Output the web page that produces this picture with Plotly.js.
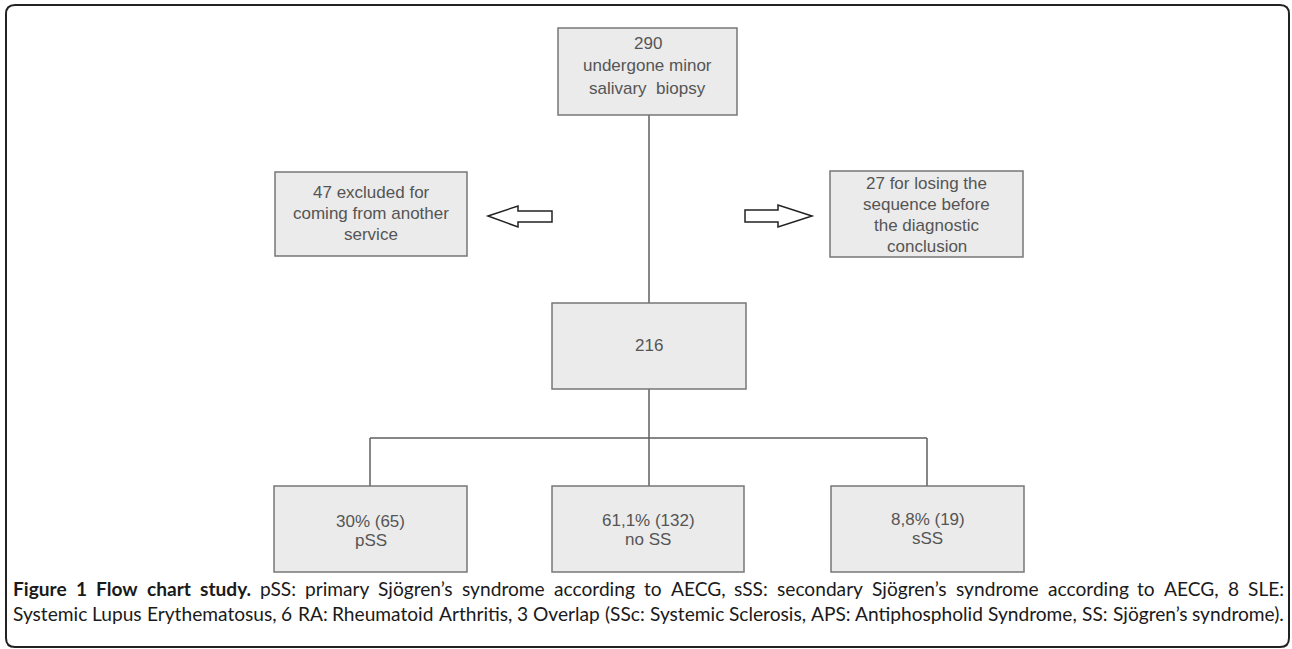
<!DOCTYPE html>
<html>
<head>
<meta charset="utf-8">
<script src="https://cdn.plot.ly/plotly-3.0.1.min.js"></script>
<style>html,body{margin:0;padding:0;background:#fff;}#chart{width:1292px;height:649px;}</style>
</head>
<body>
<div id="chart"></div>
<script>
// ---- data ----
const totalBiopsied = 290;
const excludedOther = 47;
const lostSequence = 27;
const analysed = 216;
const groupLabels = ["pSS", "no SS", "sSS"];
const groupPercents = ["30%", "61,1%", "8,8%"];
const groupCounts = [65, 132, 19];
const captionBold = "Figure 1 Flow chart study.";
const captionLine1 = "pSS: primary Sjögren’s syndrome according to AECG, sSS: secondary Sjögren’s syndrome according to AECG, 8 SLE:";
const captionLine2 = "Systemic Lupus Erythematosus, 6 RA: Rheumatoid Arthritis, 3 Overlap (SSc: Systemic Sclerosis, APS: Antiphospholid Syndrome, SS: Sjögren’s syndrome).";

// ---- geometry (pixels) ----
const boxFill = "#ebebeb", boxLine = "#777777", textCol = "#555555", connCol = "#5f5f5f";
const boxes = [
  {x0:558, x1:737, y0:28, y1:115, ty:43, dy:22.5, lines:[String(totalBiopsied), "undergone minor", "salivary  biopsy"]},
  {x0:275, x1:467, y0:172, y1:256, ty:192, dy:21, lines:[excludedOther + " excluded for", "coming from another", "service"]},
  {x0:830, x1:1023, y0:171, y1:257, ty:183, dy:21, lines:[lostSequence + " for losing the", "sequence before", "the diagnostic", "conclusion"]},
  {x0:552, x1:746, y0:303, y1:389, ty:345, dy:20, lines:[String(analysed)]},
  {x0:274, x1:467, y0:486, y1:572, ty:521, dy:19.5, lines:[groupPercents[0] + " (" + groupCounts[0] + ")", groupLabels[0]]},
  {x0:552, x1:744, y0:486, y1:572, ty:520, dy:19.5, lines:[groupPercents[1] + " (" + groupCounts[1] + ")", groupLabels[1]]},
  {x0:831, x1:1024, y0:486, y1:572, ty:519, dy:19.5, lines:[groupPercents[2] + " (" + groupCounts[2] + ")", groupLabels[2]]}
];

const shapes = [];
const annotations = [];

// outer rounded frame
const fx0=6, fy0=5, fx1=1289, fy1=647, r=9;
shapes.push({type:"path", xref:"x", yref:"y",
  path:`M ${fx0+r},${fy0} L ${fx1-r},${fy0} Q ${fx1},${fy0} ${fx1},${fy0+r} L ${fx1},${fy1-r} Q ${fx1},${fy1} ${fx1-r},${fy1} L ${fx0+r},${fy1} Q ${fx0},${fy1} ${fx0},${fy1-r} L ${fx0},${fy0+r} Q ${fx0},${fy0} ${fx0+r},${fy0} Z`,
  line:{color:"#222222", width:2}, fillcolor:"rgba(0,0,0,0)"});

// connectors
const cx = 649;
const conn = [
  [cx,115,cx,303],
  [cx,389,cx,486],
  [370,438,927,438],
  [370,438,370,486],
  [927,438,927,486]
];
conn.forEach(c => shapes.push({type:"line", x0:c[0], y0:c[1], x1:c[2], y1:c[3], line:{color:connCol, width:1.5}, layer:"below"}));

// boxes
boxes.forEach(b => {
  shapes.push({type:"rect", x0:b.x0, x1:b.x1, y0:b.y0, y1:b.y1, fillcolor:boxFill, line:{color:boxLine, width:1.5}});
  b.lines.forEach((t, i) => {
    annotations.push({x:(b.x0+b.x1)/2, y:b.ty + i*b.dy, xref:"x", yref:"y", text:t, showarrow:false,
      xanchor:"center", yanchor:"middle", align:"center",
      font:{family:"Liberation Sans, Arial, sans-serif", size:17, color:textCol}});
  });
});

// block arrows
shapes.push({type:"path", path:"M 488,216 L 518,206 L 518,211 L 552,211 L 552,222 L 518,222 L 518,227 Z",
  line:{color:"#222222", width:1.5}, fillcolor:"#ffffff"});
shapes.push({type:"path", path:"M 812,216 L 778,205 L 778,210 L 745,210 L 745,222 L 778,222 L 778,227 Z",
  line:{color:"#222222", width:1.5}, fillcolor:"#ffffff"});

// caption: justified over the text column
const capLeft = 11, capRight = 1282, capW = capRight - capLeft;
const capFam = "Lato";
const cvs = document.createElement("canvas").getContext("2d");
function measure(t, size, bold) { cvs.font = (bold ? "bold " : "") + size + "px " + capFam; return cvs.measureText(t).width; }
const capSize = Math.min(20.5, 20 * capW / measure(captionLine2, 20, false));
const capFont = {family:"Lato, 'Noto Sans', sans-serif", size:capSize, color:"#1a1a1a"};
function addWords(words, y) {
  const widths = words.map(w => measure(w.t, capSize, w.b));
  const total = widths.reduce((a, c) => a + c, 0);
  const gap = (capW - total) / (words.length - 1);
  let x = capLeft;
  words.forEach((w, i) => {
    annotations.push({x:x, y:y, xref:"x", yref:"y", xanchor:"left", yanchor:"middle", showarrow:false,
      text: w.b ? "<b>" + w.t + "</b>" : w.t, font:capFont});
    x += widths[i] + gap;
  });
}
const words1 = captionBold.split(" ").map(t => ({t:t, b:true})).concat(captionLine1.split(" ").map(t => ({t:t, b:false})));
const words2 = captionLine2.split(" ").map(t => ({t:t, b:false}));
addWords(words1, 588);
addWords(words2, 613);

const layout = {
  width:1292, height:649,
  margin:{l:0,r:0,t:0,b:0},
  paper_bgcolor:"#ffffff", plot_bgcolor:"#ffffff",
  xaxis:{range:[0,1292], visible:false, fixedrange:true},
  yaxis:{range:[649,0], visible:false, fixedrange:true},
  showlegend:false,
  shapes:shapes,
  annotations:annotations
};
Plotly.newPlot("chart", [{x:[], y:[], type:"scatter", mode:"markers"}], layout, {staticPlot:true, displayModeBar:false});
</script>
</body>
</html>
